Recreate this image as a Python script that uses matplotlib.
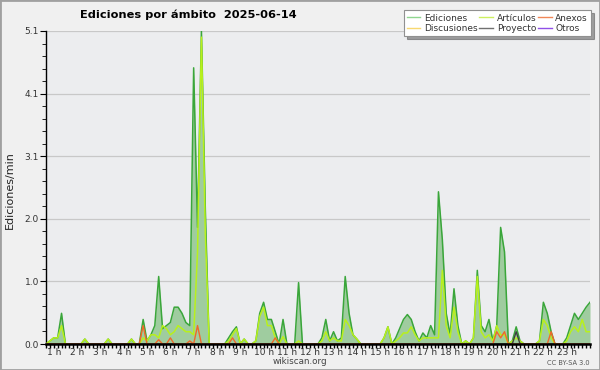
"""
Ediciones por ámbito - wikiscan, 2025-06-14
"""
import numpy as np
import matplotlib
matplotlib.use('Agg')
import matplotlib.pyplot as plt
from matplotlib.lines import Line2D
from matplotlib.patches import Rectangle

plt.rcParams['font.family'] = ['DejaVu Sans']

# muestras cada 10 min, desde 0:40 hasta 24:00
START_HOUR = 40 / 60
STEP_HOUR = 10 / 60

ediciones = [
    0, 0.05, 0.1, 0.1, 0.5, 0, 0, 0, 0, 0,
    0.08, 0, 0, 0, 0, 0, 0.08, 0, 0, 0,
    0, 0, 0.08, 0, 0, 0.4, 0.05, 0.15, 0.3, 1.1,
    0.25, 0.3, 0.35, 0.6, 0.6, 0.5, 0.35, 0.3, 4.5, 1.9,
    5.1, 2.2, 0, 0, 0, 0, 0, 0.1, 0.2, 0.28,
    0, 0.08, 0, 0, 0.05, 0.5, 0.68, 0.4, 0.4, 0.2,
    0, 0.4, 0, 0, 0, 1.0, 0, 0, 0, 0,
    0, 0.1, 0.4, 0.05, 0.2, 0.05, 0.1, 1.1, 0.5, 0.15,
    0.08, 0, 0, 0, 0, 0, 0, 0.1, 0.28, 0,
    0.1, 0.25, 0.4, 0.48, 0.4, 0.2, 0.05, 0.18, 0.1, 0.3,
    0.15, 2.48, 1.7, 0.5, 0.15, 0.9, 0.3, 0, 0.05, 0,
    0.1, 1.2, 0.3, 0.2, 0.4, 0.05, 0.3, 1.9, 1.5, 0,
    0.05, 0.28, 0.05, 0, 0, 0, 0, 0.05, 0.68, 0.5,
    0.2, 0, 0, 0, 0.1, 0.3, 0.5, 0.4, 0.5, 0.6,
    0.68,
]

articulos = [
    0, 0.05, 0.1, 0.1, 0.3, 0, 0, 0, 0, 0,
    0.08, 0, 0, 0, 0, 0, 0.08, 0, 0, 0,
    0, 0, 0.08, 0, 0, 0.1, 0.05, 0.15, 0.15, 0.1,
    0.3, 0.25, 0.15, 0.2, 0.3, 0.25, 0.2, 0.2, 0.15, 1.5,
    5.0, 1.8, 0, 0, 0, 0, 0, 0.05, 0.15, 0.25,
    0, 0.08, 0, 0, 0.05, 0.45, 0.6, 0.3, 0.3, 0.1,
    0, 0.12, 0, 0, 0, 0.05, 0, 0, 0, 0,
    0, 0.05, 0.2, 0.05, 0.1, 0.05, 0.05, 0.4, 0.3, 0.15,
    0.08, 0, 0, 0, 0, 0, 0, 0.1, 0.28, 0,
    0.05, 0.1, 0.18, 0.18, 0.28, 0.15, 0.05, 0.1, 0.1, 0.1,
    0.1, 0.1, 1.2, 0.3, 0.1, 0.6, 0.2, 0, 0.05, 0,
    0.1, 1.1, 0.2, 0.1, 0.15, 0.05, 0.3, 0.15, 0.15, 0,
    0.05, 0.1, 0.05, 0, 0, 0, 0, 0.05, 0.4, 0.3,
    0.1, 0, 0, 0, 0.05, 0.2, 0.28, 0.2, 0.4, 0.2,
    0.2,
]

anexos = [
    0, 0, 0, 0, 0, 0, 0, 0, 0, 0,
    0, 0, 0, 0, 0, 0, 0, 0, 0, 0,
    0, 0, 0, 0, 0, 0.3, 0, 0, 0, 0.07,
    0, 0, 0.1, 0, 0, 0, 0, 0.05, 0, 0.3,
    0, 0, 0, 0, 0, 0, 0, 0, 0.1, 0,
    0, 0, 0, 0, 0, 0, 0, 0, 0, 0.1,
    0, 0, 0, 0, 0, 0, 0, 0, 0, 0,
    0, 0, 0, 0, 0, 0, 0, 0, 0, 0,
    0, 0, 0, 0, 0, 0, 0, 0, 0, 0,
    0, 0, 0, 0, 0, 0, 0, 0, 0, 0,
    0, 0, 0, 0, 0, 0, 0, 0, 0, 0,
    0, 0, 0, 0, 0, 0, 0.2, 0.1, 0.2, 0,
    0, 0, 0, 0, 0, 0, 0, 0, 0, 0,
    0.2, 0, 0, 0, 0, 0, 0, 0, 0, 0,
    0,
]

proyecto = [
    0, 0, 0, 0, 0, 0, 0, 0, 0, 0,
    0, 0, 0, 0, 0, 0, 0, 0, 0, 0,
    0, 0, 0, 0, 0, 0, 0, 0, 0, 0,
    0, 0, 0, 0, 0, 0, 0, 0, 0, 0,
    0, 0, 0, 0, 0, 0, 0, 0, 0, 0,
    0, 0, 0, 0, 0, 0, 0, 0, 0, 0,
    0, 0, 0, 0, 0, 0, 0, 0, 0, 0,
    0, 0, 0, 0, 0, 0, 0, 0, 0, 0,
    0, 0, 0, 0, 0, 0, 0, 0, 0, 0,
    0, 0, 0, 0, 0, 0, 0, 0, 0, 0,
    0, 0, 0, 0, 0, 0, 0, 0, 0, 0,
    0, 0, 0, 0, 0, 0, 0, 0, 0, 0,
    0, 0.2, 0, 0, 0, 0, 0, 0, 0, 0,
    0, 0, 0, 0, 0, 0, 0, 0, 0, 0,
    0,
]

hours = list(range(1, 24))
hour_labels = [f'{h} h' for h in hours]
y_max = 5.1

legend_names = ['Ediciones', 'Discusiones', 'Artículos', 'Proyecto', 'Anexos', 'Otros']
legend_colors = ['#8fd68f', '#f8d870', '#cdf060', '#707070', '#f08858', '#9050e8']

t = START_HOUR + STEP_HOUR * np.arange(len(ediciones))

fig = plt.figure(figsize=(6, 3.7), dpi=100, facecolor='#f0f0f0')
fig.patches.append(Rectangle((0, 0), 1, 1, transform=fig.transFigure,
                             fill=False, edgecolor='#a0a0a0', linewidth=2))
ax = fig.add_axes([46 / 600, 1 - 344 / 370, 544 / 600, 313 / 370])
ax.set_facecolor('#ecedef')

ax.fill_between(t, 0, ediciones, color='#9fcc9f', linewidth=0, zorder=2)
ax.plot(t, ediciones, color='#3aa63a', linewidth=1.1, zorder=3)
ax.plot(t, articulos, color='#b8f01c', linewidth=1.1, zorder=4)
ax.plot(t, proyecto, color='#404040', linewidth=1.0, zorder=5)
ax.plot(t, anexos, color='#f0682a', linewidth=1.0, zorder=6)

ax.set_xlim(t[0], t[-1])
ax.set_ylim(0, y_max)

yt = np.linspace(0, y_max, 6)
ax.set_yticks(yt)
ax.set_yticklabels([f'{v:.1f}' for v in yt])
ax.set_yticks(np.linspace(0, y_max, 26), minor=True)
ax.set_xticks(hours)
ax.set_xticklabels(hour_labels)
ax.set_xticks(t, minor=True)

ax.grid(axis='y', which='major', color='#c8c8c8', linewidth=0.9, zorder=1)
ax.set_axisbelow(True)
for side in ('top', 'right'):
    ax.spines[side].set_visible(False)
ax.spines['left'].set_linewidth(1.0)
ax.spines['bottom'].set_linewidth(1.8)
ax.spines['bottom'].set_zorder(10)

ax.tick_params(axis='both', which='both', labelsize=6.5, labelcolor='#333333',
               color='black', direction='out')
ax.tick_params(axis='x', which='major', length=3, width=1, pad=0)
ax.tick_params(axis='x', which='minor', length=3, width=1)
ax.tick_params(axis='y', which='major', length=4, pad=1)
ax.tick_params(axis='y', which='minor', length=3)

fig.text(10 / 600, 1 - 190 / 370, 'Ediciones/min', rotation=90, fontsize=8,
         ha='center', va='center', color='#222222')
fig.text(188 / 600, 1 - 15 / 370, 'Ediciones por ámbito  2025-06-14',
         fontsize=8.2, fontweight='bold', ha='center', va='center')
fig.text(300 / 600, 1 - 362 / 370, 'wikiscan.org', fontsize=6.3,
         ha='center', va='center', color='#444444')
fig.text(590 / 600, 1 - 363 / 370, 'CC BY-SA 3.0', fontsize=4.8,
         ha='right', va='center', color='#555555')

handles = [Line2D([], [], color=c, linewidth=1) for c in legend_colors]
leg = fig.legend(handles, legend_names, ncol=3, loc='upper right',
                 bbox_to_anchor=(0.985, 0.972), fontsize=6.5, frameon=True,
                 fancybox=False, shadow=True, handlelength=1.5,
                 handletextpad=0.4, columnspacing=0.2, labelspacing=0.15,
                 borderpad=0.35, borderaxespad=0)
leg.get_frame().set_edgecolor('#909090')
leg.get_frame().set_linewidth(0.8)
for txt in leg.get_texts():
    txt.set_color('#333333')

fig.savefig('out.png', dpi=100, facecolor=fig.get_facecolor())
